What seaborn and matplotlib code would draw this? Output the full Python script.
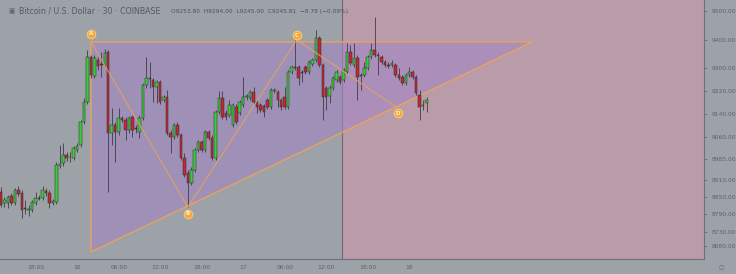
import numpy as np
import pandas as pd
import matplotlib
matplotlib.use("Agg")
import matplotlib.pyplot as plt
import seaborn as sns

# ---------------- data ----------------
opens = [8868, 8830, 8830, 8854, 8830, 8875, 8865, 8813, 8806, 8806,
         8830, 8847, 8847, 8872, 8865, 8830, 8833, 8959, 8970, 8997,
         8990, 8987, 9015, 9032, 9113, 9182, 9340, 9273, 9329, 9315,
         9312, 9357, 9074, 9102, 9078, 9127, 9120, 9085, 9130, 9092,
         9078, 9127, 9242, 9266, 9259, 9235, 9252, 9189, 9200, 9074,
         9060, 9102, 9067, 8987, 8935, 8900, 8945, 9015, 9043, 9015,
         9078, 9057, 8987, 9148, 9196, 9144, 9137, 9102, 9165, 9144,
         9172, 9200, 9196, 9217, 9182, 9172, 9168, 9189, 9165, 9221,
         9217, 9189, 9200, 9165, 9287, 9305, 9305, 9287, 9305, 9287,
         9315, 9329, 9406, 9312, 9231, 9203, 9231, 9259, 9270, 9259,
         9287, 9357, 9312, 9336, 9277, 9277, 9301, 9340, 9364, 9346,
         9340, 9322, 9312, 9312, 9312, 9277, 9270, 9249, 9277, 9287,
         9270, 9207, 9168, 9179]
highs = [8886, 8851, 8858, 8865, 8882, 8889, 8875, 8840, 8823, 8840,
         8868, 8858, 8889, 8882, 8875, 8844, 8973, 9032, 9039, 9008,
         9008, 9029, 9039, 9120, 9196, 9364, 9346, 9346, 9340, 9357,
         9367, 9364, 9162, 9113, 9162, 9134, 9130, 9134, 9137, 9102,
         9137, 9249, 9340, 9322, 9266, 9259, 9259, 9207, 9224, 9085,
         9109, 9113, 9074, 9004, 8945, 8956, 9022, 9050, 9050, 9085,
         9085, 9067, 9155, 9221, 9221, 9155, 9189, 9179, 9175, 9189,
         9270, 9210, 9224, 9235, 9189, 9179, 9175, 9196, 9231, 9231,
         9224, 9196, 9235, 9294, 9312, 9399, 9312, 9294, 9312, 9329,
         9336, 9434, 9413, 9319, 9238, 9242, 9273, 9294, 9277, 9301,
         9388, 9381, 9388, 9346, 9284, 9322, 9346, 9388, 9479, 9357,
         9346, 9329, 9322, 9329, 9319, 9301, 9277, 9284, 9305, 9294,
         9277, 9224, 9189, 9200]
lows = [8816, 8816, 8813, 8823, 8823, 8854, 8778, 8792, 8785, 8799,
        8823, 8840, 8840, 8854, 8813, 8823, 8826, 8952, 8959, 8977,
        8973, 8980, 9008, 9025, 9106, 9175, 9266, 9266, 9294, 9270,
        9305, 8868, 9032, 8973, 9067, 9113, 9050, 9074, 9060, 9074,
        9057, 9120, 9231, 9231, 9182, 9179, 9175, 9182, 9067, 9004,
        9053, 9060, 8980, 8921, 8816, 8893, 8938, 9008, 9008, 9008,
        9050, 8980, 8980, 9141, 9123, 9120, 9130, 9095, 9106, 9137,
        9165, 9189, 9189, 9175, 9144, 9148, 9130, 9158, 9158, 9214,
        9165, 9155, 9158, 9158, 9280, 9294, 9242, 9252, 9280, 9280,
        9308, 9322, 9305, 9120, 9155, 9179, 9224, 9252, 9245, 9252,
        9280, 9312, 9305, 9189, 9224, 9270, 9294, 9333, 9340, 9277,
        9315, 9305, 9301, 9305, 9270, 9259, 9242, 9242, 9270, 9263,
        9207, 9120, 9155, 9148]
closes = [8823, 8840, 8851, 8830, 8875, 8861, 8806, 8809, 8810, 8833,
          8847, 8845, 8875, 8865, 8830, 8837, 8963, 8966, 8997, 8987,
          8989, 9022, 9029, 9113, 9182, 9340, 9277, 9336, 9308, 9312,
          9353, 9074, 9102, 9078, 9127, 9120, 9085, 9127, 9085, 9088,
          9127, 9242, 9266, 9263, 9235, 9252, 9182, 9200, 9074, 9060,
          9102, 9067, 8987, 8928, 8900, 8945, 9015, 9043, 9015, 9078,
          9057, 8987, 9148, 9196, 9130, 9130, 9172, 9172, 9113, 9182,
          9200, 9203, 9217, 9182, 9165, 9155, 9148, 9165, 9224, 9224,
          9189, 9165, 9165, 9287, 9305, 9301, 9266, 9284, 9287, 9322,
          9329, 9406, 9312, 9200, 9200, 9231, 9266, 9287, 9252, 9294,
          9357, 9319, 9336, 9270, 9273, 9301, 9340, 9364, 9346, 9343,
          9322, 9312, 9308, 9319, 9277, 9266, 9249, 9277, 9287, 9270,
          9214, 9165, 9172, 9189]

price_ticks = [9500, 9400, 9300, 9220, 9140, 9060, 8985, 8910, 8850, 8790, 8730, 8680]
price_tick_labels = ["9500.00", "9400.00", "9300.00", "9220.00", "9140.00", "9060.00",
                     "8985.00", "8910.00", "8850.00", "8790.00", "8730.00", "8680.00"]
time_ticks = [10, 22, 34, 46, 58, 70, 82, 94, 106, 118]
time_labels = ["18:00", "16", "06:00", "12:00", "18:00", "17", "06:00", "12:00", "18:00", "18"]

# pattern points (candle index, price)
pattern_names = ["A", "B", "C", "D"]
pattern_x = [26.0, 54.0, 85.5, 114.7]
pattern_y = [9392, 8816, 9399, 9161]
label_x = [26.0, 54.0, 85.5, 114.7]
label_y = [9420, 8792, 9416, 9144]

# triangle (candle index, price)
tri_x = [26.0, 153.5, 26.0]
tri_y = [9392, 9392, 8659]
projection_start = 98.55

header_title = "Bitcoin / U.S. Dollar \u00b7 30 \u00b7 COINBASE"
header_values = "O9253.80  H9294.00  L9245.00  C9245.81  \u22128.78 (\u22120.09%)"

# ---------------- style ----------------
sns.set_theme(style="white")
plt.rcParams["font.family"] = ["DejaVu Sans"]

BG = "#9da1a8"
PINK = "#b99ba9"
PURPLE = "#a286c4"
ORANGE = "#eda458"
GREEN = "#3fc83f"
RED = "#c0283c"
WICK = "#34343c"
TXT = "#5d6169"

fig = plt.figure(figsize=(7.36, 2.74), dpi=100, facecolor=BG)
ax = fig.add_axes([0.0, 15 / 274, 704 / 736, 259 / 274])
ax.set_facecolor(BG)

n = len(opens)
df = pd.DataFrame({"i": np.arange(n), "open": opens, "high": highs,
                   "low": lows, "close": closes})
df["up"] = df["close"] >= df["open"]

# projection (pink) zone
ax.axvspan(projection_start, 260, color=PINK, lw=0, zorder=0)
ax.axvline(projection_start, color="#6e6a72", lw=0.8, zorder=1)

# triangle fill + outline
ax.fill(tri_x, tri_y, color=PURPLE, alpha=0.6, lw=0, zorder=1)
ax.fill(tri_x, tri_y, facecolor="none", edgecolor=ORANGE, lw=1.1, alpha=0.85, zorder=2)

# candles
ax.vlines(df["i"], df["low"], df["high"], color=WICK, lw=0.55, zorder=3)
body_bottom = np.minimum(df["open"], df["close"])
body_h = np.maximum(np.abs(df["close"] - df["open"]), 2.0)
colors = np.where(df["up"], GREEN, RED)
ax.bar(df["i"], body_h, bottom=body_bottom, width=0.72, color=colors,
       edgecolor="#24301f", linewidth=0.35, zorder=4)

# pattern lines A-B-C-D
pat = pd.DataFrame({"x": pattern_x, "y": pattern_y})
sns.lineplot(data=pat, x="x", y="y", sort=False, color=ORANGE, lw=0.9,
             alpha=0.75, ax=ax, zorder=5)

# labels
lab = pd.DataFrame({"x": label_x, "y": label_y})
sns.scatterplot(data=lab, x="x", y="y", s=38, color="#f2a73c", edgecolor="#f7c873",
                linewidth=0.8, ax=ax, zorder=6)
for nm, lx, ly in zip(pattern_names, label_x, label_y):
    ax.text(lx, ly, nm, color="#fff3dc", fontsize=4, ha="center", va="center",
            fontweight="bold", zorder=7)

# axes
ax.set_xlim(-0.29, 203.2)
ax.set_ylim(8634.5, 9538.4)
ax.set_xlabel("")
ax.set_ylabel("")
ax.yaxis.tick_right()
ax.set_yticks(price_ticks)
ax.set_yticklabels(price_tick_labels)
ax.set_xticks(time_ticks)
ax.set_xticklabels(time_labels)
ax.tick_params(axis="both", labelsize=4.3, colors=TXT, length=2.5, width=0.5,
               pad=2, direction="out")
ax.tick_params(axis="y", pad=3)
for side in ["top", "left"]:
    ax.spines[side].set_visible(False)
for side in ["right", "bottom"]:
    ax.spines[side].set_color("#6e7178")
    ax.spines[side].set_linewidth(0.8)
ax.grid(False)

# header
fig.text(8 / 736, 1 - 11 / 274, "\u25a3", fontsize=4.8, color=TXT, ha="left", va="center")
fig.text(19 / 736, 1 - 11 / 274, header_title, fontsize=5.7, color="#555960",
         ha="left", va="center")
fig.text(171 / 736, 1 - 11 / 274, header_values, fontsize=4.2, color="#4d5158",
         ha="left", va="center")
fig.text(721 / 736, 1 - 267 / 274, "\u25cb", fontsize=4.5, color=TXT, ha="center", va="center")

fig.savefig("out.png", dpi=100, facecolor=BG)
